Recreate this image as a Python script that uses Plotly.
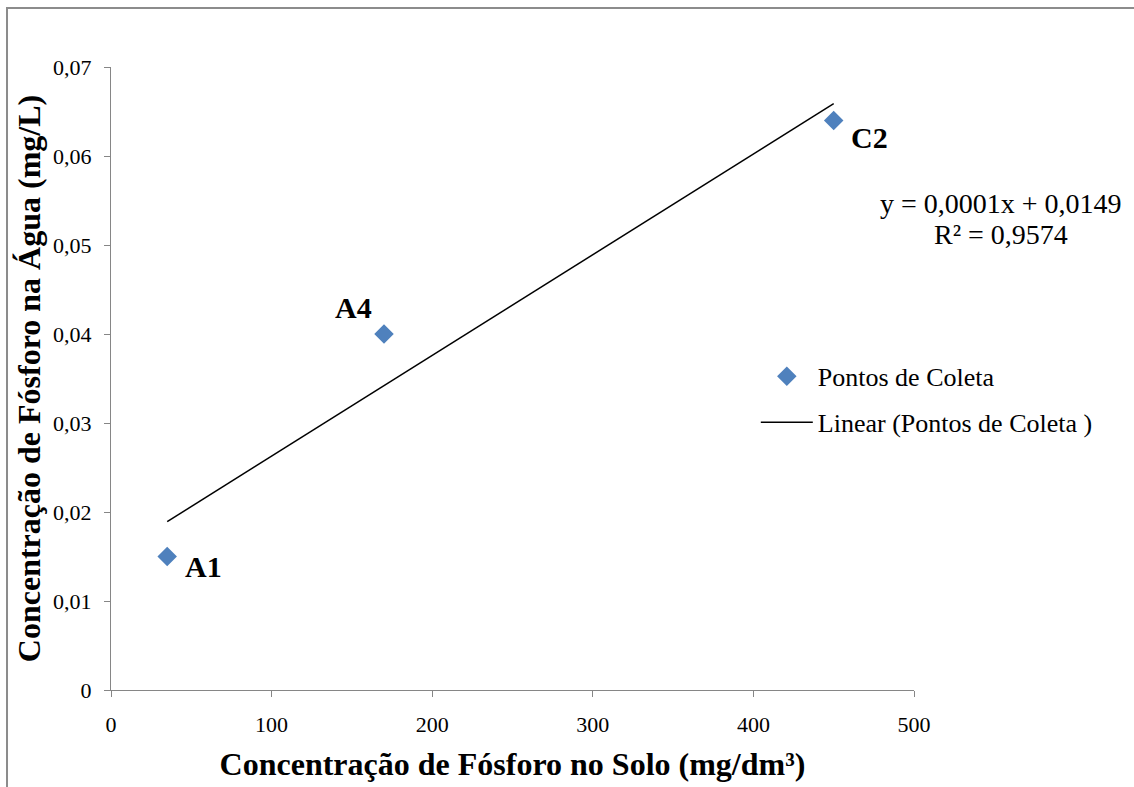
import numpy as np
import plotly.graph_objects as go

# Data
point_labels = ["A1", "A4", "C2"]
solo_p = [35, 170, 450]          # mg/dm³
agua_p = [0.015, 0.040, 0.064]   # mg/L

x_ticks = [0, 100, 200, 300, 400, 500]
y_ticks = [0, 0.01, 0.02, 0.03, 0.04, 0.05, 0.06, 0.07]
y_tick_text = ["0", "0,01", "0,02", "0,03", "0,04", "0,05", "0,06", "0,07"]

equation_lines = ["y = 0,0001x + 0,0149", "R² = 0,9574"]

# Linear trendline (least squares)
slope, intercept = np.polyfit(solo_p, agua_p, 1)
trend_x = [min(solo_p), max(solo_p)]
trend_y = [slope * v + intercept for v in trend_x]

FONT = "Liberation Serif"
AXIS_GRAY = "#868686"

fig = go.Figure()
fig.add_trace(go.Scatter(
    x=solo_p, y=agua_p, mode="markers", name="Pontos de Coleta",
    marker=dict(symbol="diamond", size=15, color="#4F81BD"),
    legendgroup="a",
))
fig.add_trace(go.Scatter(
    x=trend_x, y=trend_y, mode="lines", name="Linear (Pontos de Coleta )",
    line=dict(color="black", width=1.5),
    legendgroup="b",
))

# point labels
label_offsets = {"A1": (16, -10, "left"), "A4": (-10, 27, "right"), "C2": (15, -17, "left")}
for lbl, xv, yv in zip(point_labels, solo_p, agua_p):
    dx, dy, anc = label_offsets[lbl]
    fig.add_annotation(x=xv, y=yv, text=f"<b>{lbl}</b>", showarrow=False,
                       xanchor=anc, yanchor="middle", xshift=dx, yshift=dy,
                       font=dict(family=FONT, size=30, color="black"))

for line_text, ypos in zip(equation_lines, [0.7816, 0.7319]):
    fig.add_annotation(xref="paper", yref="paper", x=1.108, y=ypos, text=line_text,
                       showarrow=False, xanchor="center", yanchor="middle",
                       font=dict(family=FONT, size=28, color="black"))

# outer chart border
fig.add_shape(type="rect", xref="paper", yref="paper",
              x0=-0.1295, x1=1.29, y0=-0.18, y1=1.0947,
              line=dict(color="#8c8c8c", width=2), fillcolor="rgba(0,0,0,0)", layer="below")

fig.update_layout(
    width=1134, height=787,
    margin=dict(l=111, r=220, t=67, b=97),
    paper_bgcolor="white", plot_bgcolor="white",
    font=dict(family=FONT, size=20, color="black"),
    showlegend=True,
    legend=dict(x=0.803, y=0.541, xanchor="left", yanchor="top",
                font=dict(family=FONT, size=26, color="black"),
                traceorder="grouped", tracegroupgap=9, itemwidth=52,
                bgcolor="rgba(0,0,0,0)"),
    xaxis=dict(range=[0, 500], tickvals=x_ticks, ticktext=[str(v) for v in x_ticks],
               showgrid=False, zeroline=False, showline=True, linecolor=AXIS_GRAY, linewidth=1,
               ticks="outside", ticklen=6, tickcolor=AXIS_GRAY, ticklabelstandoff=9,
               tickfont=dict(family=FONT, size=22, color="black"),
               title=dict(text="<b>Concentração de Fósforo no Solo (mg/dm³)</b>",
                          font=dict(family=FONT, size=32, color="black"), standoff=16)),
    yaxis=dict(range=[0, 0.07], tickvals=y_ticks, ticktext=y_tick_text,
               showgrid=False, zeroline=False, showline=True, linecolor=AXIS_GRAY, linewidth=1,
               ticks="outside", ticklen=6, tickcolor=AXIS_GRAY, ticklabelstandoff=8,
               tickfont=dict(family=FONT, size=22, color="black"),
               title=dict(text="<b>Concentração de Fósforo na Água (mg/L)</b>",
                          font=dict(family=FONT, size=32, color="black"), standoff=2)),
)

fig.write_html("out.html", config={"displayModeBar": False},
               post_script="document.body.style.margin='0';")
